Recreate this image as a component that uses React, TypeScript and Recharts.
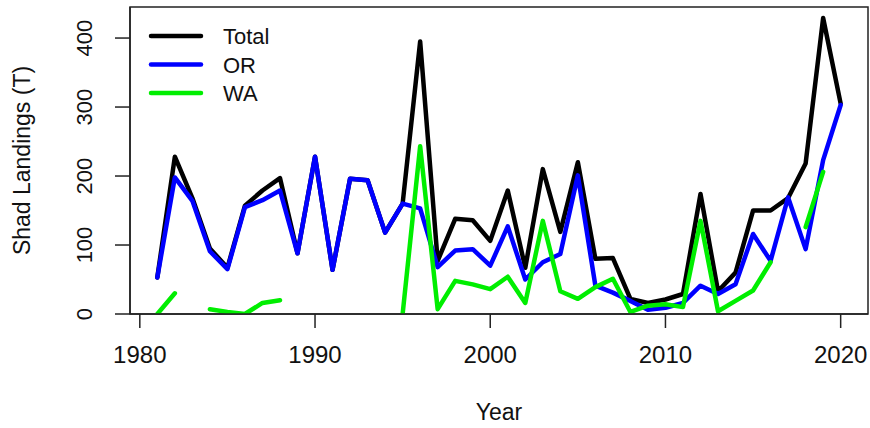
import { LineChart, Line, XAxis, YAxis, ReferenceArea, Legend, Label } from "recharts";

const years = [
  1981, 1982, 1983, 1984, 1985, 1986, 1987, 1988, 1989, 1990,
  1991, 1992, 1993, 1994, 1995, 1996, 1997, 1998, 1999, 2000,
  2001, 2002, 2003, 2004, 2005, 2006, 2007, 2008, 2009, 2010,
  2011, 2012, 2013, 2014, 2015, 2016, 2017, 2018, 2019, 2020,
];

const totalLandings = [
  53, 228, 168, 95, 67, 157, 179, 197, 88, 228,
  64, 196, 194, 118, 160, 395, 77, 138, 136, 106,
  179, 67, 210, 119, 220, 80, 81, 22, 16, 21,
  29, 174, 33, 60, 150, 150, 168, 218, 429, 305,
];

const orLandings = [
  53, 198, 164, 91, 65, 155, 165, 179, 88, 228,
  64, 196, 194, 118, 160, 153, 68, 92, 94, 70,
  127, 50, 75, 87, 201, 41, 31, 19, 6, 9,
  16, 41, 29, 43, 116, 77, 169, 94, 223, 303,
];

// null = no WA landings reported that year
const waLandings: (number | null)[] = [
  0, 30, null, 7, 3, 0, 16, 20, null, null,
  null, null, null, null, 0, 243, 7, 48, 43, 36,
  54, 16, 135, 33, 22, 39, 51, 3, 12, 14,
  10, 135, 4, 19, 34, 75, null, 126, 206, null,
];

const yearTicks = [1980, 1990, 2000, 2010, 2020];
const landingTicks = [0, 100, 200, 300, 400];

const data = years.map((year, i) => ({
  year,
  Total: totalLandings[i],
  OR: orLandings[i],
  WA: waLandings[i],
}));

const FONT = '"Liberation Sans", Arial, Helvetica, sans-serif';
const X_DOMAIN = [1979.44, 2021.56];
const Y_DOMAIN = [0, 445];

const series = [
  { key: "Total", color: "#000000" },
  { key: "OR", color: "#0000ff" },
  { key: "WA", color: "#00ee00" },
];

const YearTick = (props: any) => {
  const { x, y, payload } = props;
  return (
    <text x={x} y={y + 33} textAnchor="middle" fontSize={24} fontFamily={FONT} fill="#111">
      {payload.value}
    </text>
  );
};

const LandingTick = (props: any) => {
  const { x, y, payload } = props;
  return (
    <text
      transform={`translate(${x - 21},${y}) rotate(-90)`}
      textAnchor="middle"
      fontSize={22}
      fontFamily={FONT}
      fill="#111"
    >
      {payload.value}
    </text>
  );
};

const renderLegend = () => (
  <svg width={300} height={110}>
    {series.map((s, i) => {
      const ly = 36 + i * 28.5;
      return (
        <g key={s.key}>
          <line x1={151} x2={201} y1={ly} y2={ly} stroke={s.color} strokeWidth={4.5} strokeLinecap="round" />
          <text x={223} y={ly + 8} fontSize={22} fontFamily={FONT} fill="#111">
            {s.key}
          </text>
        </g>
      );
    })}
  </svg>
);

const App = () => {
  return (
    <div style={{ position: "absolute", left: 0, top: 0, width: 870, height: 428, background: "#fff" }}>
      <LineChart
        width={870}
        height={428}
        data={data}
        margin={{ top: 7, right: 2, left: 0, bottom: 54 }}
      >
        <ReferenceArea
          x1={X_DOMAIN[0]}
          x2={X_DOMAIN[1]}
          y1={Y_DOMAIN[0]}
          y2={Y_DOMAIN[1]}
          fill="none"
          stroke="#222"
          strokeWidth={1.5}
          fillOpacity={0}
        />
        <XAxis
          dataKey="year"
          type="number"
          domain={X_DOMAIN}
          allowDataOverflow
          ticks={yearTicks}
          height={60}
          tickSize={14}
          tick={<YearTick />}
          stroke="#222"
          axisLine={{ stroke: "#222", strokeWidth: 1.5 }}
          tickLine={{ stroke: "#222", strokeWidth: 1.5 }}
        >
          <Label
            content={({ viewBox }: any) => (
              <text
                x={viewBox.x + viewBox.width / 2}
                y={viewBox.y + 106}
                textAnchor="middle"
                fontSize={23}
                fontFamily={FONT}
                fill="#111"
              >
                Year
              </text>
            )}
          />
        </XAxis>
        <YAxis
          type="number"
          domain={Y_DOMAIN}
          allowDataOverflow
          ticks={landingTicks}
          width={130}
          tickSize={15}
          tick={<LandingTick />}
          stroke="#222"
          axisLine={{ stroke: "#222", strokeWidth: 1.5 }}
          tickLine={{ stroke: "#222", strokeWidth: 1.5 }}
        >
          <Label
            content={({ viewBox }: any) => (
              <text
                transform={`translate(30,${viewBox.y + viewBox.height / 2}) rotate(-90)`}
                textAnchor="middle"
                fontSize={23}
                fontFamily={FONT}
                fill="#111"
              >
                Shad Landings (T)
              </text>
            )}
          />
        </YAxis>
        <Legend
          layout="vertical"
          align="center"
          verticalAlign="middle"
          content={renderLegend}
          wrapperStyle={{ position: "absolute", left: 0, top: 0, width: 300, height: 110 }}
        />
        {series.map((s) => (
          <Line
            key={s.key}
            type="linear"
            dataKey={s.key}
            stroke={s.color}
            strokeWidth={4.5}
            strokeLinejoin="round"
            strokeLinecap="round"
            dot={false}
            activeDot={false}
            connectNulls={false}
            isAnimationActive={false}
          />
        ))}
      </LineChart>
    </div>
  );
};

export default App;
